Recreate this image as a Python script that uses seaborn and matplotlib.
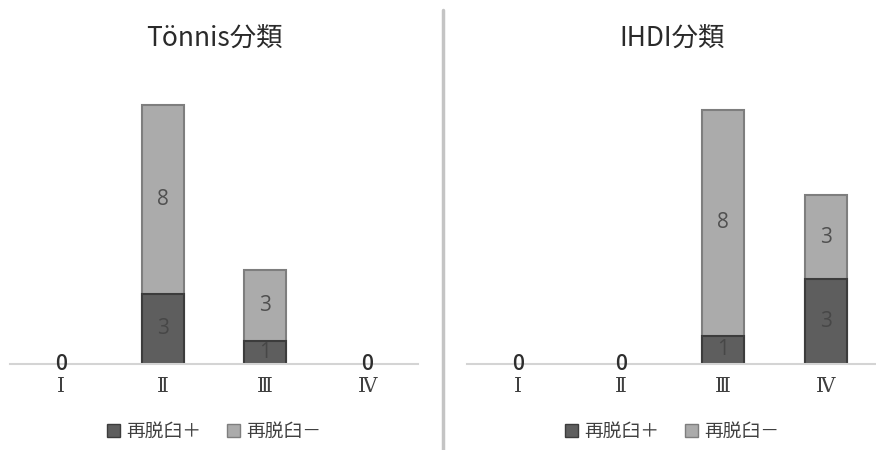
import matplotlib
matplotlib.use("Agg")
import matplotlib.pyplot as plt
import seaborn as sns
import pandas as pd
from matplotlib.patches import Patch
from matplotlib.lines import Line2D

# データ
categories = ["Ⅰ", "Ⅱ", "Ⅲ", "Ⅳ"]
tonnis_plus = [0, 3, 1, 0]
tonnis_minus = [0, 8, 3, 0]
ihdi_plus = [0, 0, 1, 3]
ihdi_minus = [0, 0, 8, 3]
titles = ["Tönnis分類", "IHDI分類"]
legend_labels = ["再脱臼＋", "再脱臼－"]

sns.set_style("white")
plt.rcParams["font.family"] = ["Noto Sans CJK JP", "DejaVu Sans"]

dark = "#5e5e5e"
light = "#ababab"
num_font = ["Open Sans", "DejaVu Sans"]

fig = plt.figure(figsize=(8.76, 4.5), dpi=100)
ax1 = fig.add_axes([0.0114, 0.191, 0.466, 0.627])
ax2 = fig.add_axes([0.533, 0.191, 0.468, 0.627])

panels = [
    (ax1, tonnis_plus, tonnis_minus, 12),
    (ax2, ihdi_plus, ihdi_minus, 10),
]

for (ax, plus, minus, ymax), title in zip(panels, titles):
    df = pd.DataFrame({
        "cat": categories,
        "plus": plus,
        "minus": minus,
        "total": [p + m for p, m in zip(plus, minus)],
    })
    # 積み上げ: 合計(薄) を描いてから 再脱臼+(濃) を重ねる
    sns.barplot(data=df, x="cat", y="total", color=light, saturation=1,
                width=0.41, edgecolor="#7e7e7e", linewidth=1.5, ax=ax)
    sns.barplot(data=df, x="cat", y="plus", color=dark, saturation=1,
                width=0.41, edgecolor="#3c3c3c", linewidth=1.5, ax=ax)
    # 高さ0の棒は枠線も消す
    for p in ax.patches:
        if p.get_height() == 0:
            p.set_visible(False)

    for i, row in df.iterrows():
        if row["total"] == 0:
            ax.text(i, 0, "0", ha="center", va="center", fontsize=15,
                    color="#2e2e2e", family=num_font, fontweight="semibold")
            continue
        if row["plus"] > 0:
            ax.text(i, row["plus"] / 2, str(row["plus"]), ha="center",
                    va="center", fontsize=15, color="#474747", family=num_font)
        if row["minus"] > 0:
            ax.text(i, row["plus"] + row["minus"] / 2, str(row["minus"]),
                    ha="center", va="center", fontsize=15, color="#505050",
                    family=num_font)

    ax.set_xlim(-0.5, 3.5)
    ax.set_ylim(0, ymax)
    ax.set_xlabel("")
    ax.set_ylabel("")
    ax.set_yticks([])
    ax.tick_params(axis="x", length=0, pad=9)
    for lab in ax.get_xticklabels():
        lab.set_family(["DejaVu Serif", "Noto Sans CJK JP"])
        lab.set_fontsize(14.5)
        lab.set_color("#404040")
    sns.despine(ax=ax, left=True)
    ax.spines["bottom"].set_color("#d4d4d4")
    ax.spines["bottom"].set_linewidth(1.5)
    ax.set_title(title, fontsize=19, color="#2a2a2a", pad=26)

    handles = [Patch(facecolor=dark, edgecolor="#3c3c3c"),
               Patch(facecolor=light, edgecolor="#7e7e7e")]
    ax.legend(handles, legend_labels, loc="center", bbox_to_anchor=(0.5, -0.24),
              ncol=2, frameon=False, fontsize=13.5, handlelength=0.7,
              handleheight=0.7, handletextpad=0.3, columnspacing=1.4,
              labelcolor="#404040")

# 中央の区切り線
fig.add_artist(Line2D([443 / 876, 443 / 876], [0, 440 / 450],
                      color="#c4c4c4", linewidth=2.5))

fig.savefig("out.png", dpi=100)
